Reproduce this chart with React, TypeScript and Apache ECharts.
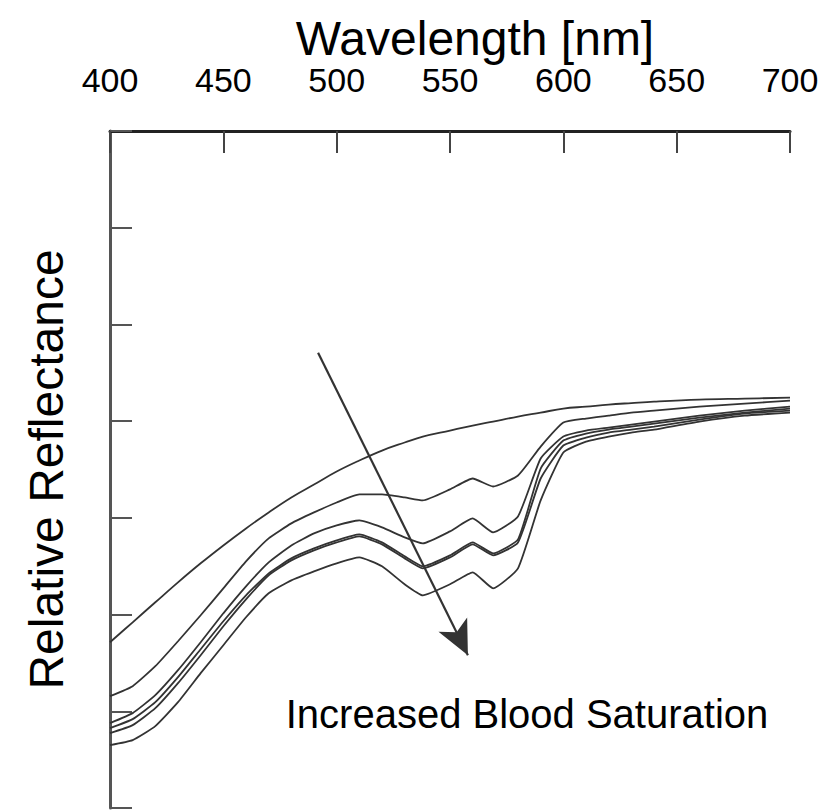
import React, { useEffect, useRef } from "react";
import * as echarts from "echarts";

const wavelengths = [400, 410, 420, 430, 440, 450, 460, 470, 480, 490, 500, 510, 520, 530, 538, 550, 560, 569, 580, 590, 600, 610, 620, 630, 640, 660, 680, 700];

const curve1 = [1.714, 1.92, 2.127, 2.333, 2.53, 2.715, 2.891, 3.056, 3.211, 3.345, 3.479, 3.593, 3.696, 3.779, 3.841, 3.903, 3.954, 3.996, 4.047, 4.088, 4.13, 4.15, 4.171, 4.187, 4.202, 4.223, 4.233, 4.243];
const curve2 = [1.156, 1.26, 1.466, 1.724, 1.993, 2.271, 2.55, 2.788, 2.943, 3.056, 3.159, 3.242, 3.242, 3.211, 3.18, 3.294, 3.407, 3.324, 3.438, 3.737, 3.985, 4.027, 4.057, 4.088, 4.109, 4.15, 4.181, 4.212];
const curve3 = [0.878, 0.981, 1.167, 1.425, 1.714, 2.013, 2.292, 2.54, 2.715, 2.839, 2.922, 2.973, 2.901, 2.798, 2.736, 2.86, 2.994, 2.85, 3.015, 3.614, 3.841, 3.903, 3.934, 3.965, 3.996, 4.057, 4.109, 4.15];
const curve4 = [0.826, 0.919, 1.094, 1.353, 1.642, 1.931, 2.199, 2.426, 2.581, 2.684, 2.767, 2.829, 2.746, 2.602, 2.499, 2.612, 2.746, 2.633, 2.777, 3.51, 3.799, 3.872, 3.913, 3.944, 3.975, 4.037, 4.088, 4.13];
const curve5 = [0.774, 0.857, 1.032, 1.291, 1.58, 1.879, 2.158, 2.406, 2.56, 2.664, 2.746, 2.808, 2.726, 2.581, 2.478, 2.591, 2.726, 2.612, 2.746, 3.407, 3.748, 3.83, 3.882, 3.913, 3.944, 4.016, 4.078, 4.109];
const curve6 = [0.65, 0.702, 0.847, 1.094, 1.394, 1.683, 1.972, 2.22, 2.354, 2.447, 2.53, 2.591, 2.499, 2.313, 2.199, 2.313, 2.437, 2.271, 2.478, 3.18, 3.676, 3.789, 3.841, 3.882, 3.913, 3.996, 4.057, 4.088];

const curves = [curve1, curve2, curve3, curve4, curve5, curve6];
const curveNames = ["Curve 1", "Curve 2", "Curve 3", "Curve 4", "Curve 5", "Curve 6"];

const arrowStart = [491.8, 4.708];
const arrowEnd = [557.9, 1.58];

const xTitle = "Wavelength [nm]";
const yTitle = "Relative Reflectance";
const annotation = "Increased Blood Saturation";

const FONT = "'Liberation Sans', Arial, Helvetica, sans-serif";

export default function App() {
  const ref = useRef<HTMLDivElement>(null);
  useEffect(() => {
    if (!ref.current) return;
    const chart = echarts.init(ref.current, null, { renderer: "svg" });
    const series: any[] = curves.map((c, i) => ({
      name: curveNames[i],
      type: "line",
      data: wavelengths.map((w, j) => [w, c[j]]),
      showSymbol: false,
      symbol: "none",
      smooth: i === 0 ? 0.4 : 0.15,
      lineStyle: { color: "#333", width: 1.8 },
      silent: true,
      z: 3,
    }));
    series[0].markLine = {
      silent: true,
      symbol: ["none", "arrow"],
      symbolSize: [24, 34],
      label: { show: false },
      lineStyle: { color: "#333", width: 2.2, type: "solid" },
      data: [[{ coord: arrowStart }, { coord: arrowEnd }]],
    };
    chart.setOption({
      animation: false,
      backgroundColor: "#fff",
      grid: { left: 110, top: 131, width: 680, height: 677 },
      xAxis: {
        type: "value",
        position: "top",
        min: 400,
        max: 700,
        interval: 50,
        axisLine: { show: true, onZero: false, lineStyle: { color: "#222", width: 3 } },
        axisTick: { show: true, inside: true, length: 22, lineStyle: { color: "#444", width: 2 } },
        axisLabel: { show: true, fontSize: 34, margin: 34, color: "#000", fontFamily: FONT },
        splitLine: { show: false },
      },
      yAxis: {
        type: "value",
        min: 0,
        max: 7,
        interval: 1,
        name: yTitle,
        nameLocation: "middle",
        nameGap: 40,
        nameTextStyle: { fontSize: 48, color: "#000", fontFamily: FONT },
        axisLine: { show: true, onZero: false, lineStyle: { color: "#555", width: 3 } },
        axisTick: { show: true, inside: true, length: 22, lineStyle: { color: "#555", width: 2 } },
        axisLabel: { show: false },
        splitLine: { show: false },
      },
      graphic: [
        {
          type: "text",
          x: 475,
          y: 38,
          style: { text: xTitle, fontSize: 48, fill: "#000", fontFamily: FONT, align: "center", verticalAlign: "middle" },
        },
        {
          type: "text",
          x: 527,
          y: 714,
          style: { text: annotation, fontSize: 40, fill: "#000", fontFamily: FONT, align: "center", verticalAlign: "middle" },
        },
      ],
      series,
    });
    return () => chart.dispose();
  }, []);
  return <div ref={ref} style={{ position: "fixed", left: 0, top: 0, width: 823, height: 811 }} />;
}
